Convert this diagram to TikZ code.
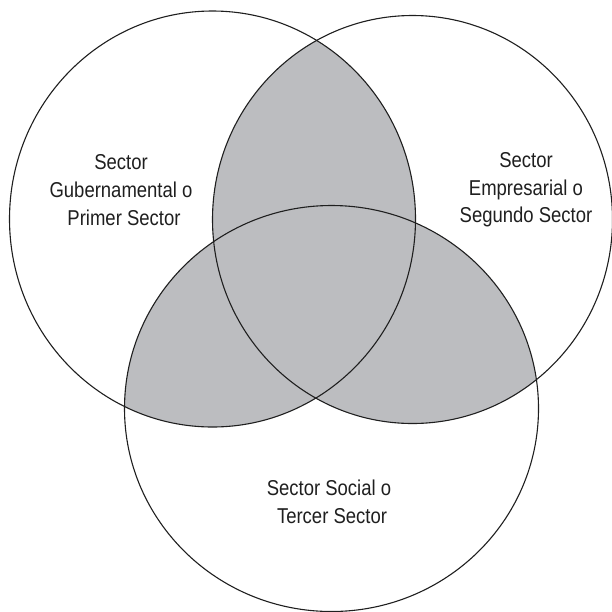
\documentclass[tikz,border=0pt]{standalone}
\usepackage{fontspec}
\setmainfont{Liberation Sans}[FakeStretch=0.86]
\begin{document}
\begin{tikzpicture}[x=1pt,y=-1pt,
  ring/.style={draw=black!88, line width=1.1pt},
  overlap/.style={fill=shade},
  label/.style={align=center, font=\fontsize{21.5}{27.7}\selectfont, text=black!88, inner sep=0pt}]
\definecolor{shade}{RGB}{188,189,192}
\useasboundingbox (0,0) rectangle (612,611);
% centres of the three sectors
\coordinate (cA) at (212.5,219);
\coordinate (cB) at (412.5,219.5);
\coordinate (cC) at (331.5,408.5);
\def\shapeA{(cA) ellipse [x radius=203pt, y radius=208pt]}
\def\shapeB{(cB) ellipse [x radius=200pt, y radius=204pt]}
\def\shapeC{(cC) ellipse [x radius=207pt, y radius=203pt]}
% shaded overlaps of each pair
\begin{scope}\clip \shapeA; \path[overlap] \shapeB; \end{scope}
\begin{scope}\clip \shapeA; \path[overlap] \shapeC; \end{scope}
\begin{scope}\clip \shapeB; \path[overlap] \shapeC; \end{scope}
% outlines
\draw[ring] \shapeA;
\draw[ring] \shapeB;
\draw[ring] \shapeC;
% labels
\node[label] (lA) at (121,190) {Sector\\Gubernamental o\\\hspace*{6pt}Primer Sector};
\node[label] (lB) at (526,190) {Sector\\Empresarial o\\Segundo Sector};
\node[label] (lC) at (329,502) {Sector Social o\\\hspace*{6pt}Tercer Sector};
\end{tikzpicture}
\end{document}
